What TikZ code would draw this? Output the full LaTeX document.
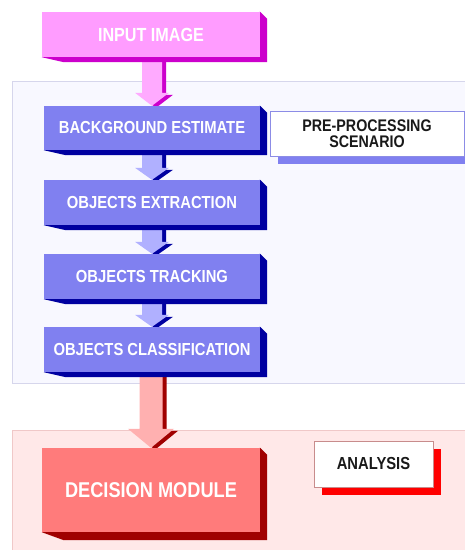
\documentclass[tikz,border=0pt]{standalone}
\usepackage{fontspec}
\newfontfamily\lblfont[FakeStretch=0.85]{Liberation Sans}
\usetikzlibrary{calc}
\pgfdeclarelayer{panel}
\pgfdeclarelayer{arrowlayer}
\pgfdeclarelayer{shade}
\pgfsetlayers{panel,arrowlayer,shade,main}

\definecolor{inpfront}{RGB}{255,156,255}
\definecolor{inpdark}{RGB}{204,0,204}
\definecolor{inparrow}{RGB}{255,170,255}
\definecolor{bluefront}{RGB}{128,128,240}
\definecolor{bluedark}{RGB}{0,0,160}
\definecolor{bluearrow}{RGB}{176,176,255}
\definecolor{redfront}{RGB}{255,123,123}
\definecolor{reddark}{RGB}{160,0,0}
\definecolor{redarrow}{RGB}{255,176,176}
\definecolor{prepanel}{RGB}{248,248,255}
\definecolor{preedge}{RGB}{214,214,236}
\definecolor{anapanel}{RGB}{255,232,232}
\definecolor{anaedge}{RGB}{240,200,200}
\definecolor{labblue}{RGB}{140,140,230}
\definecolor{labred}{RGB}{200,140,140}

\tikzset{
  block/.style={rectangle, inner sep=0pt, text=white,
    font=\lblfont\bfseries\fontsize{17.4}{19}\selectfont},
  tag/.style={rectangle, inner sep=0pt, fill=white, text=black!90, align=center,
    font=\lblfont\bfseries\fontsize{16.8}{16.5}\selectfont},
}

% extruded side and bottom of a block: #1 node, #2 colour, #3 right depth, #4 bottom depth
\newcommand\blockshade[4]{%
  \begin{pgfonlayer}{shade}
    \fill[#2] (#1.north east) -- ($(#1.north east)+(#3,#3)$) --
      ($(#1.south east)+(#3,#4)$) -- ($(#1.south west)+(22,#4)$) --
      (#1.south west) -- cycle;
  \end{pgfonlayer}}

% fat downward arrow from #1 to #2: #3 front, #4 dark, #5 half shaft, #6 half head, #7 head length
\newcommand\fatarrow[7]{%
  \begin{pgfonlayer}{arrowlayer}
    \path let \p1=(#1.south), \p2=(#2.north) in
      [fill=#4, shift={(4pt,-2pt)}]
      ({\x2-#5},{\y1}) -- ({\x2+#5},{\y1}) -- ({\x2+#5},{\y2+#7}) --
      ({\x2+#6},{\y2+#7}) -- ({\x2},{\y2}) -- ({\x2-#6},{\y2+#7}) --
      ({\x2-#5},{\y2+#7}) -- cycle;
    \path let \p1=(#1.south), \p2=(#2.north) in
      [fill=#3]
      ({\x2-#5},{\y1}) -- ({\x2+#5},{\y1}) -- ({\x2+#5},{\y2+#7}) --
      ({\x2+#6},{\y2+#7}) -- ({\x2},{\y2}) -- ({\x2-#6},{\y2+#7}) --
      ({\x2-#5},{\y2+#7}) -- cycle;
  \end{pgfonlayer}}

\begin{document}
\begin{tikzpicture}[x=1pt,y=-1pt]
\useasboundingbox (0,0) rectangle (465,550);

% panels
\begin{pgfonlayer}{panel}
  \fill[white] (0,0) rectangle (465,550);
  \draw[preedge, fill=prepanel, line width=0.8pt] (12,81) rectangle (470,383);
  \draw[anaedge, fill=anapanel, line width=0.8pt] (12,430) rectangle (470,560);
\end{pgfonlayer}

% blocks
\node[block, fill=inpfront, minimum width=218pt, minimum height=45pt,
  font=\lblfont\bfseries\fontsize{19}{21}\selectfont] (inp) at (151,34.5) {INPUT IMAGE};
\node[block, fill=bluefront, minimum width=216pt, minimum height=44pt] (bg) at (152,128) {BACKGROUND ESTIMATE};
\node[block, fill=bluefront, minimum width=216pt, minimum height=45pt] (ext) at (152,202.5) {OBJECTS EXTRACTION};
\node[block, fill=bluefront, minimum width=216pt, minimum height=45pt] (trk) at (152,276.5) {OBJECTS TRACKING};
\node[block, fill=bluefront, minimum width=216pt, minimum height=45pt] (cls) at (152,349.5) {OBJECTS CLASSIFICATION};
\node[block, fill=redfront, minimum width=218pt, minimum height=84pt,
  font=\lblfont\bfseries\fontsize{21.4}{23}\selectfont] (dec) at (151,490) {DECISION MODULE};

\blockshade{inp}{inpdark}{7}{5}
\blockshade{bg}{bluedark}{7}{5}
\blockshade{ext}{bluedark}{7}{5}
\blockshade{trk}{bluedark}{7}{5}
\blockshade{cls}{bluedark}{7}{5}
\blockshade{dec}{reddark}{7}{8}

% side labels
\fill[bluefront] (278,119) rectangle (466,164);
\node[tag, draw=labblue, line width=0.6pt, minimum width=194pt, minimum height=45pt] (pre) at (367,133.5)
  {PRE-PROCESSING\\SCENARIO};
\fill[red] (322,449) rectangle (441,495);
\node[tag, draw=labred, line width=0.6pt, minimum width=119pt, minimum height=46pt,
  font=\lblfont\bfseries\fontsize{17.4}{19}\selectfont] (ana) at (373.5,464) {ANALYSIS};

% arrows between blocks
\fatarrow{inp}{bg}{inparrow}{inpdark}{10pt}{17pt}{13pt}
\fatarrow{bg}{ext}{bluearrow}{bluedark}{10pt}{17pt}{12pt}
\fatarrow{ext}{trk}{bluearrow}{bluedark}{10pt}{17pt}{12pt}
\fatarrow{trk}{cls}{bluearrow}{bluedark}{10pt}{17pt}{12pt}
\fatarrow{cls}{dec}{redarrow}{reddark}{11.5pt}{23pt}{19pt}
\end{tikzpicture}
\end{document}
